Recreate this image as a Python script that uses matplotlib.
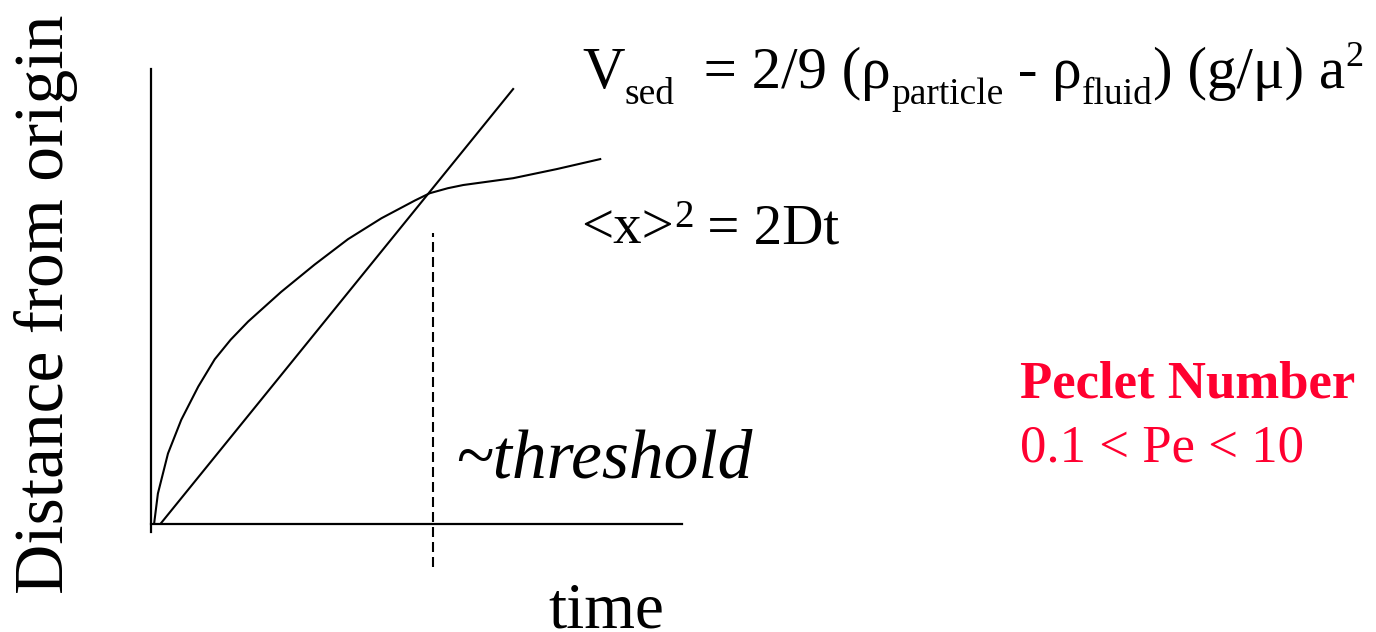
import matplotlib
matplotlib.use('Agg')
import matplotlib.pyplot as plt

W, H = 1376, 632

# Données (unités arbitraires : temps en abscisse, distance en ordonnée)
t_diff = [0.06, 0.13, 0.32, 0.57, 0.89, 1.20, 1.50, 1.83, 2.45, 3.08, 3.71, 4.34,
          4.97, 5.25, 5.59, 5.88, 6.82, 7.64, 8.46]
d_diff = [0.02, 0.67, 1.55, 2.29, 3.02, 3.62, 4.05, 4.45, 5.10, 5.70, 6.26, 6.72,
          7.11, 7.27, 7.38, 7.45, 7.60, 7.80, 8.02]

t_sed = [0.19, 6.82]
d_sed = [0.02, 9.56]

t_thr = [5.31, 5.31]
d_thr = [-0.95, 6.40]

plt.rcParams['font.family'] = ['Liberation Serif', 'DejaVu Serif']

fig = plt.figure(figsize=(W / 100, H / 100), dpi=100)

# position des axes en pixels : x 151 -> 682, y 69 -> 532
ax = fig.add_axes([151 / W, 1 - 532 / H, 531 / W, 463 / H])
ax.set_xlim(0, 10)
ax.set_ylim(-0.176, 10)
ax.spines['top'].set_visible(False)
ax.spines['right'].set_visible(False)
ax.spines['bottom'].set_position(('data', 0))
for s in ['left', 'bottom']:
    ax.spines[s].set_linewidth(1.6)
ax.set_xticks([])
ax.set_yticks([])
ax.patch.set_alpha(0)

ax.plot(t_diff, d_diff, color='black', lw=1.5, solid_joinstyle='round', clip_on=False)
ax.plot(t_sed, d_sed, color='black', lw=1.5, clip_on=False)
ax.plot(t_thr, d_thr, color='black', lw=1.5, dashes=(4.8, 2.4), clip_on=False)


def px(x, y):
    return x / W, 1 - y / H


rend = fig.canvas.get_renderer()


# texte en morceaux (indices / exposants), chaque morceau après le précédent
def chain(x0, y0, pieces, **kw):
    x = x0
    for s, size, dy in pieces:
        t = fig.text(*px(x, y0 - dy), s, fontsize=size, ha='left', va='baseline', **kw)
        x = t.get_window_extent(renderer=rend).x1


red = '#ff0030'

fig.text(*px(63, 304), 'Distance from origin', fontsize=50, rotation=90,
         rotation_mode='anchor', ha='center', va='baseline')
fig.text(*px(606, 628), 'time', fontsize=47, ha='center', va='baseline')
fig.text(*px(455, 477), '~threshold', fontsize=50, style='italic',
         ha='left', va='baseline')

chain(582, 88, [('V', 42.5, 0), ('sed', 27, -16), ('  = 2/9 (ρ', 42.5, 0),
                ('particle', 27, -16), (' - ρ', 42.5, 0), ('fluid', 27, -16),
                (') (g/μ) a', 42.5, 0), ('2', 26, 22)])
chain(581, 243, [('<x>', 41, 0), ('2', 28, 16), (' = 2Dt', 41, 0)])

fig.text(*px(1020, 398), 'Peclet Number', fontsize=38, fontweight='bold',
         color=red, ha='left', va='baseline')
fig.text(*px(1020, 461), '0.1 < Pe < 10', fontsize=38, color=red,
         ha='left', va='baseline')

fig.savefig('out.png', dpi=100)
